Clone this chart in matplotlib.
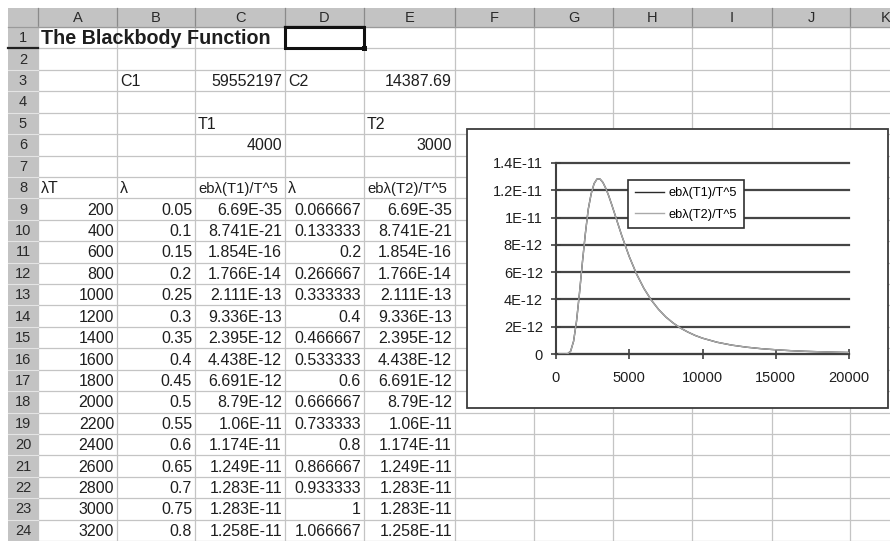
import matplotlib
matplotlib.use('Agg')
import matplotlib.pyplot as plt
from matplotlib.patches import Rectangle

# ---------------- data ----------------
title = "The Blackbody Function"
c1_label, c1_value = "C1", "59552197"
c2_label, c2_value = "C2", "14387.69"
t1_label, t1_value = "T1", "4000"
t2_label, t2_value = "T2", "3000"
headers = ["λT", "λ", "ebλ(T1)/T^5", "λ", "ebλ(T2)/T^5"]

lamT = [200, 400, 600, 800, 1000, 1200, 1400, 1600, 1800, 2000,
        2200, 2400, 2600, 2800, 3000, 3200]
lam1 = ["0.05", "0.1", "0.15", "0.2", "0.25", "0.3", "0.35", "0.4",
        "0.45", "0.5", "0.55", "0.6", "0.65", "0.7", "0.75", "0.8"]
eb1 = ["6.69E-35", "8.741E-21", "1.854E-16", "1.766E-14", "2.111E-13",
       "9.336E-13", "2.395E-12", "4.438E-12", "6.691E-12", "8.79E-12",
       "1.06E-11", "1.174E-11", "1.249E-11", "1.283E-11", "1.283E-11",
       "1.258E-11"]
lam2 = ["0.066667", "0.133333", "0.2", "0.266667", "0.333333", "0.4",
        "0.466667", "0.533333", "0.6", "0.666667", "0.733333", "0.8",
        "0.866667", "0.933333", "1", "1.066667"]
eb2 = list(eb1)

# rest of the plotted column
tail_lamT = [3400, 3600, 3800, 4000, 4200, 4500, 5000, 5500, 6000, 6500,
             7000, 7500, 8000, 8500, 9000, 9500, 10000, 11000, 12000,
             13000, 14000, 15000, 16000, 17000, 18000, 19000, 20000]
tail_eb = [1.214e-11, 1.159e-11, 1.096e-11, 1.030e-11, 9.63e-12, 8.64e-12,
           7.14e-12, 5.86e-12, 4.81e-12, 3.96e-12, 3.27e-12, 2.71e-12,
           2.27e-12, 1.90e-12, 1.61e-12, 1.36e-12, 1.16e-12, 8.6e-13,
           6.5e-13, 5.0e-13, 3.9e-13, 3.1e-13, 2.45e-13, 1.98e-13,
           1.62e-13, 1.33e-13, 1.11e-13]

series_names = ["ebλ(T1)/T^5", "ebλ(T2)/T^5"]
y_ticks = [0, 2e-12, 4e-12, 6e-12, 8e-12, 1e-11, 1.2e-11, 1.4e-11]
y_tick_labels = ["0", "2E-12", "4E-12", "6E-12", "8E-12", "1E-11", "1.2E-11", "1.4E-11"]
x_ticks = [0, 5000, 10000, 15000, 20000]
x_tick_labels = ["0", "5000", "10000", "15000", "20000"]

col_letters = ["A", "B", "C", "D", "E", "F", "G", "H", "I", "J", "K"]

# ---------------- layout ----------------
W, H, DPI = 890, 541, 100
FONT = "Liberation Sans"
plt.rcParams['font.family'] = [FONT, 'DejaVu Sans']

col_edges = [38, 117, 195, 285, 364, 455, 534, 613, 692, 772, 850, 930]
hdr_top, row_top, row_h, n_rows = 8, 27, 21.42, 24
txt_col = '#1e1e1e'
cell_fs = 11.5

fig = plt.figure(figsize=(W / DPI, H / DPI), dpi=DPI)
bg = fig.add_axes([0, 0, 1, 1])
bg.set_xlim(0, W)
bg.set_ylim(H, 0)
bg.axis('off')

# header bars
bg.add_patch(Rectangle((8, hdr_top), W - 8, row_top - hdr_top, fc='#c3c3c3', ec='none', zorder=1))
bg.add_patch(Rectangle((8, hdr_top), col_edges[0] - 8, H - hdr_top, fc='#c3c3c3', ec='none', zorder=1))

# grid lines
for xe in col_edges[:-1]:
    bg.plot([xe, xe], [row_top, H], color='#c4c4c4', lw=0.9, zorder=2)
    bg.plot([xe, xe], [hdr_top, row_top], color='#8a8a8a', lw=0.9, zorder=2)
for r in range(n_rows + 1):
    yy = row_top + r * row_h
    bg.plot([col_edges[0], W], [yy, yy], color='#c4c4c4', lw=0.9, zorder=2)
    bg.plot([8, col_edges[0]], [yy, yy], color='#e4e4e4', lw=0.8, zorder=2)
bg.plot([8, W], [row_top, row_top], color='#9a9a9a', lw=0.9, zorder=2)

# column letters
for i, letter in enumerate(col_letters):
    xc = (col_edges[i] + col_edges[i + 1]) / 2
    if letter == "K":
        xc = 886
        ha = 'center'
    bg.text(xc, (hdr_top + row_top) / 2 + 0.5, letter, ha='center', va='center',
            fontsize=10.5, color='#2a2a2a', zorder=3, clip_on=True)
# row numbers
for r in range(1, n_rows + 1):
    yc = row_top + (r - 0.5) * row_h + 0.5
    bg.text(23, yc, str(r), ha='center', va='center', fontsize=10.5,
            color='#2a2a2a', zorder=3)

# active cell D1 and header highlights
bg.plot([8, col_edges[0]], [row_top + row_h, row_top + row_h], color='#202020', lw=1.6, zorder=3)
bg.plot([col_edges[3], col_edges[4]], [row_top, row_top], color='#202020', lw=1.6, zorder=3)
bg.add_patch(Rectangle((col_edges[3], row_top), col_edges[4] - col_edges[3], row_h,
                       fc='none', ec='#111111', lw=2.2, zorder=4))
bg.add_patch(Rectangle((col_edges[4] - 2.5, row_top + row_h - 2.5), 5, 5,
                       fc='#111111', ec='none', zorder=4))


def cell(col, row, text, align='left', bold=False, fs=cell_fs):
    yc = row_top + (row - 0.5) * row_h + 1
    if align == 'left':
        x, ha = col_edges[col] + 3, 'left'
    else:
        x, ha = col_edges[col + 1] - 3, 'right'
    bg.text(x, yc, text, ha=ha, va='center', fontsize=fs, color=txt_col,
            fontweight='bold' if bold else 'normal', zorder=3)


cell(0, 1, title, bold=True, fs=14.2)
cell(1, 3, c1_label)
cell(2, 3, c1_value, 'right')
cell(3, 3, c2_label)
cell(4, 3, c2_value, 'right')
cell(2, 5, t1_label)
cell(4, 5, t2_label)
cell(2, 6, t1_value, 'right')
cell(4, 6, t2_value, 'right')
for c, h in enumerate(headers):
    cell(c, 8, h, fs=cell_fs - 0.8 if len(h) > 3 else cell_fs)
for i in range(len(lamT)):
    r = 9 + i
    cell(0, r, str(lamT[i]), 'right')
    cell(1, r, lam1[i], 'right')
    cell(2, r, eb1[i], 'right')
    cell(3, r, lam2[i], 'right')
    cell(4, r, eb2[i], 'right')

# chart frame
bg.add_patch(Rectangle((467, 129), 421, 279, fc='white', ec='#3c3c3c', lw=1.3, zorder=6))

# ---------------- chart ----------------
chart_x = lamT + tail_lamT
chart_y1 = [float(s) for s in eb1] + tail_eb
chart_y2 = [float(s) for s in eb2] + tail_eb

ax = fig.add_axes([556 / W, 1 - 354 / H, (849 - 556) / W, (354 - 163) / H])
ax.patch.set_alpha(0)
ax.plot(chart_x, chart_y1, color='#2a2a2a', lw=1.0, label=series_names[0], zorder=3)
ax.plot(chart_x, chart_y2, color='#a9a9a9', lw=1.0, label=series_names[1], zorder=4)
ax.set_xlim(0, 20000)
ax.set_ylim(0, 1.4e-11)
ax.set_yticks(y_ticks)
ax.set_yticklabels(y_tick_labels)
ax.set_xticks(x_ticks)
ax.set_xticklabels(x_tick_labels)
for s in ['top', 'right']:
    ax.spines[s].set_visible(False)
for s in ['left', 'bottom']:
    ax.spines[s].set_color('#404040')
    ax.spines[s].set_linewidth(1.5)
ax.yaxis.grid(True, color='#454545', lw=1.6)
ax.set_axisbelow(True)
for gl in ax.get_ygridlines():
    gl.set_clip_on(False)
ax.tick_params(direction='inout', length=7, width=1.2, color='#404040',
               labelsize=10.5, labelcolor='#1e1e1e')
ax.tick_params(axis='y', pad=6)
ax.tick_params(axis='x', pad=9)

leg = ax.legend(loc='upper left', bbox_to_anchor=(628 / W, 1 - 180 / H),
                bbox_transform=fig.transFigure, frameon=True, fancybox=False,
                edgecolor='#303030', framealpha=1, fontsize=9.2,
                handlelength=2.3, handletextpad=0.3, borderpad=0.55,
                labelspacing=0.75, borderaxespad=0)
leg.get_frame().set_linewidth(1.2)
leg.set_zorder(10)

fig.savefig('out.png', dpi=DPI)
